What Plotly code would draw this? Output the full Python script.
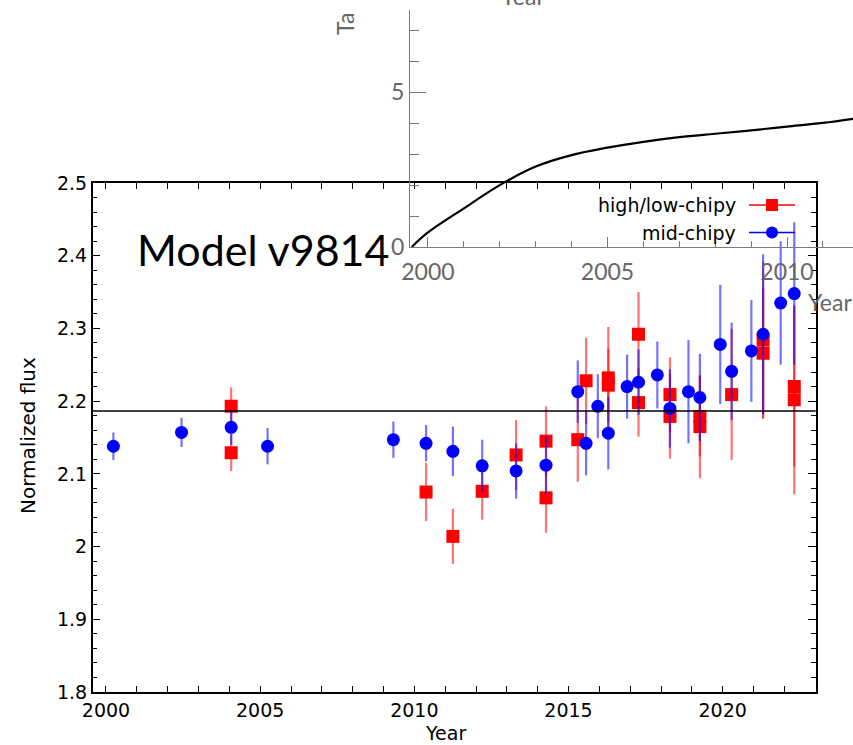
import plotly.graph_objects as go

# ---- main panel: normalized flux per epoch ----
years_hl = [2004.06, 2004.06, 2010.38, 2011.25, 2012.20, 2013.30, 2014.27, 2014.27,
            2015.30, 2015.57, 2016.29, 2016.29, 2017.27, 2017.27, 2018.29, 2018.29,
            2019.26, 2019.26, 2020.29, 2021.31, 2021.31, 2022.32, 2022.32]
flux_hl = [2.193, 2.129, 2.075, 2.014, 2.076, 2.126, 2.145, 2.067,
           2.147, 2.228, 2.232, 2.222, 2.292, 2.198, 2.209, 2.179,
           2.179, 2.165, 2.209, 2.284, 2.266, 2.220, 2.202]
err_hl = [0.026, 0.025, 0.040, 0.038, 0.039, 0.048, 0.048, 0.048,
          0.058, 0.059, 0.070, 0.050, 0.058, 0.047, 0.051, 0.058,
          0.055, 0.071, 0.090, 0.108, 0.090, 0.110, 0.130]

years_mid = [2000.24, 2002.45, 2004.06, 2005.24, 2009.32, 2010.38, 2011.25, 2012.20,
             2013.30, 2014.27, 2015.30, 2015.57, 2015.95, 2016.29, 2016.90, 2017.27,
             2017.88, 2018.29, 2018.89, 2019.26, 2019.92, 2020.29, 2020.93, 2021.31,
             2021.88, 2022.32]
flux_mid = [2.138, 2.157, 2.164, 2.138, 2.147, 2.142, 2.131, 2.111,
            2.104, 2.112, 2.213, 2.142, 2.193, 2.156, 2.220, 2.226,
            2.236, 2.190, 2.213, 2.205, 2.278, 2.241, 2.269, 2.292,
            2.335, 2.348]
err_mid = [0.019, 0.020, 0.024, 0.025, 0.025, 0.025, 0.034, 0.036,
           0.038, 0.040, 0.043, 0.044, 0.044, 0.050, 0.044, 0.045,
           0.046, 0.054, 0.071, 0.060, 0.082, 0.067, 0.070, 0.110,
           0.085, 0.098]

ref_level = 2.1865
series_names = ["high/low-chipy", "mid-chipy"]
model_label = "Model v9814"

# ---- inset panel: cumulative curve ----
inset_years = [1999.55, 2000.0, 2001.0, 2002.0, 2003.0, 2004.0, 2005.0, 2006.0,
               2007.0, 2008.0, 2009.0, 2010.0, 2011.0, 2012.0]
inset_total = [0.0, 0.47, 1.25, 2.0, 2.6, 2.97, 3.21, 3.40,
               3.55, 3.66, 3.77, 3.89, 4.01, 4.17]

W, H = 853, 745


def px(x):
    return x / W


def py(y):
    return 1 - y / H


MAIN_FONT = "DejaVu Sans"
INSET_FONT = "Lato"
GRAY = "#7a7a7a"
INSET_TXT = "#666666"

fig = go.Figure()

fig.add_trace(go.Scatter(
    x=years_hl, y=flux_hl, mode="markers", name=series_names[0],
    marker=dict(symbol="square", size=13, color="#ff0000"),
    error_y=dict(type="data", array=err_hl, color="rgba(255,0,0,0.55)",
                 thickness=2.2, width=0),
    xaxis="x", yaxis="y", showlegend=False,
))
fig.add_trace(go.Scatter(
    x=years_mid, y=flux_mid, mode="markers", name=series_names[1],
    marker=dict(symbol="circle", size=13, color="#0000ff"),
    error_y=dict(type="data", array=err_mid, color="rgba(0,0,255,0.55)",
                 thickness=2.2, width=0),
    xaxis="x", yaxis="y", showlegend=False,
))

fig.add_trace(go.Scatter(
    x=inset_years, y=inset_total, mode="lines",
    line=dict(color="black", width=2.2, shape="spline"),
    xaxis="x2", yaxis="y2", showlegend=False,
))

main_ticks = dict(
    showline=True, linecolor="black", linewidth=1.5, mirror="allticks",
    ticks="inside", tickcolor="black", tickwidth=1.2,
    showgrid=False, zeroline=False, automargin=False,
    tickfont=dict(family=MAIN_FONT, size=19, color="black"),
)
inset_ticks = dict(
    showline=True, linecolor=GRAY, linewidth=1.3, mirror=False,
    ticks="inside", tickcolor=GRAY, tickwidth=1.2,
    showgrid=False, zeroline=False, automargin=False,
    tickfont=dict(family=INSET_FONT, size=23, color=INSET_TXT),
)

fig.update_layout(
    width=W, height=H,
    margin=dict(l=0, r=0, t=0, b=0, pad=0, autoexpand=False),
    paper_bgcolor="white", plot_bgcolor="rgba(0,0,0,0)",
    xaxis=dict(domain=[px(92.7), px(815.7)], range=[1999.569, 2023.016],
               tick0=2000, dtick=5, ticklen=6,
               minor=dict(dtick=1, ticks="inside", ticklen=6, tickcolor="black"),
               anchor="y", **main_ticks),
    yaxis=dict(domain=[py(692), py(183)], range=[1.8, 2.5],
               tick0=1.8, dtick=0.1, ticklen=8,
               minor=dict(dtick=0.02, ticks="inside", ticklen=5, tickcolor="black"),
               anchor="x", **main_ticks),
    xaxis2=dict(domain=[px(410), 1.0], range=[1999.5, 2011.838],
                tick0=2000, dtick=5, ticklen=10, ticklabelstandoff=4,
                minor=dict(dtick=1, ticks="inside", ticklen=6, tickcolor=GRAY),
                anchor="y2", **inset_ticks),
    yaxis2=dict(domain=[py(247), py(10)], range=[0, 7.66],
                tick0=0, dtick=5, ticklen=16,
                minor=dict(dtick=1, ticks="inside", ticklen=9, tickcolor=GRAY),
                anchor="x2", **inset_ticks),
    showlegend=False,
)

# horizontal reference level across the main panel
fig.add_shape(type="line", xref="x domain", yref="y", x0=0, x1=1,
              y0=ref_level, y1=ref_level, line=dict(color="black", width=1.5))

# legend: label text on the left, symbol on the right
legend_rows = [(205, "#ff0000", "square"), (232.5, "#0000ff", "circle")]
for (yy, col, sym), name in zip(legend_rows, series_names):
    fig.add_annotation(x=px(738), y=py(yy), xref="paper", yref="paper",
                       text=name, showarrow=False, xanchor="right", yanchor="middle",
                       font=dict(family=MAIN_FONT, size=19, color="black"))
    fig.add_shape(type="line", xref="paper", yref="paper",
                  x0=px(749), x1=px(795), y0=py(yy), y1=py(yy),
                  line=dict(color=col, width=1.5))
    shape_type = "rect" if sym == "square" else "circle"
    fig.add_shape(type=shape_type, xref="paper", yref="paper",
                  x0=px(772 - 6), x1=px(772 + 6), y0=py(yy - 6), y1=py(yy + 6),
                  fillcolor=col, line=dict(width=0))

# panel texts
fig.add_annotation(x=px(135), y=py(250), xref="paper", yref="paper", text=model_label,
                   showarrow=False, xanchor="left", yanchor="middle",
                   font=dict(family=INSET_FONT, size=43, color="black"))
fig.add_annotation(x=px(445), y=py(733), xref="paper", yref="paper", text="Year",
                   showarrow=False, xanchor="center", yanchor="middle",
                   font=dict(family=MAIN_FONT, size=19, color="black"))
fig.add_annotation(x=px(28), y=py(436), xref="paper", yref="paper",
                   text="Normalized flux", textangle=-90, showarrow=False,
                   xanchor="center", yanchor="middle",
                   font=dict(family=MAIN_FONT, size=20, color="black"))

# inset axis titles (running past the page edges)
fig.add_annotation(x=px(806), y=py(302), xref="paper", yref="paper", text="Year",
                   showarrow=False, xanchor="left", yanchor="middle",
                   font=dict(family=INSET_FONT, size=23, color=INSET_TXT))
fig.add_annotation(x=px(523), y=py(12), xref="paper", yref="paper", text="Year",
                   showarrow=False, xanchor="center", yanchor="bottom",
                   font=dict(family=INSET_FONT, size=23, color=INSET_TXT))
fig.add_annotation(x=px(345), y=py(24), xref="paper", yref="paper", text="Ta",
                   textangle=-90, showarrow=False, xanchor="center", yanchor="middle",
                   font=dict(family=INSET_FONT, size=23, color=INSET_TXT))

fig.write_html("out.html")
